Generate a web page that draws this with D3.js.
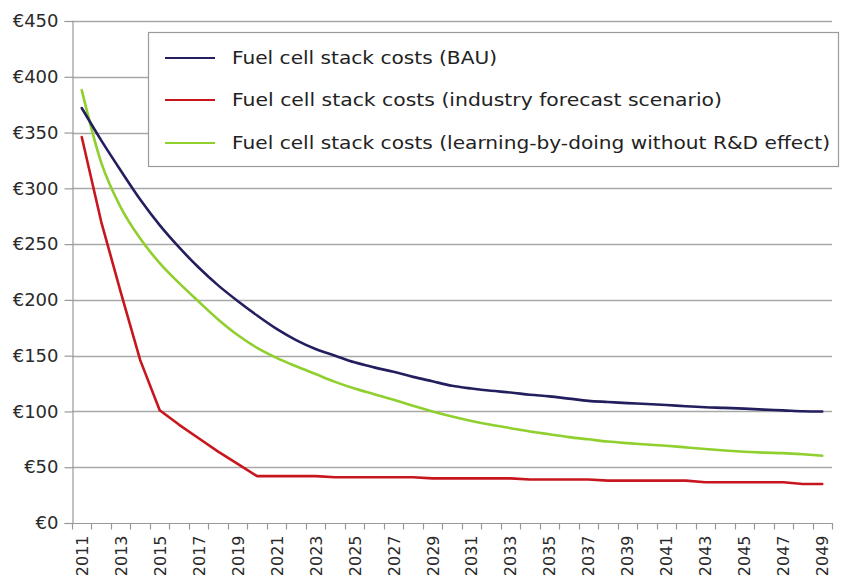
<!DOCTYPE html>
<html>
<head>
<meta charset="utf-8">
<script src="https://cdn.jsdelivr.net/npm/d3@7"></script>
<style>
  html, body { margin: 0; padding: 0; background: #fff; }
  svg { display: block; }
</style>
</head>
<body>
<svg id="chart" width="842" height="576"></svg>
<script>
const years = d3.range(2011, 2050).map(String);
const yTicks = [0, 50, 100, 150, 200, 250, 300, 350, 400, 450];
const xTickLabels = years.filter((d, i) => i % 2 === 0);

const bau = [372, 343, 316, 290, 267, 247, 229, 213, 199, 186, 174, 164, 156, 150, 144,
             139.5, 135.5, 131, 127, 123, 120.5, 118.5, 117, 115, 113.5, 111.5, 109.5, 108.5,
             107.5, 106.7, 105.8, 104.6, 103.7, 103.2, 102.5, 101.6, 101, 100.2, 100];
const industry = [346, 270, 207, 146, 101, 88, 76, 64, 53, 42, 42, 42, 42, 41, 41, 41, 41, 41,
                  40, 40, 40, 40, 40, 39, 39, 39, 39, 38, 38, 38, 38, 38, 36.5, 36.5, 36.5, 36.5,
                  36.5, 35, 35];
const learning = [388, 323, 283, 255, 233, 215, 198.5, 182.5, 168.5, 157, 148, 140.5, 133.5, 126.5,
                  120.5, 115.5, 110.5, 105, 100, 95.5, 91.5, 88, 85, 82, 79.5, 77, 75, 73,
                  71.6, 70.4, 69.2, 67.8, 66.4, 65, 63.9, 63.1, 62.6, 61.6, 60.3];

const seriesNames = [
  "Fuel cell stack costs (BAU)",
  "Fuel cell stack costs (industry forecast scenario)",
  "Fuel cell stack costs (learning-by-doing without R&D effect)"
];
const seriesValues = [bau, industry, learning];
const seriesColors = ["#231f5f", "#c8161e", "#8fcf2e"];

(function () {
const svg = d3.select("#chart");
const mLeft = 72, mRight = 832, mTop = 21, mBottom = 523;

const x = d3.scaleBand().domain(years).range([mLeft, mRight]).padding(0);
const y = d3.scaleLinear().domain([0, 450]).range([mBottom, mTop]);

// gridlines
svg.append("g")
  .selectAll("line")
  .data(yTicks.filter(d => d > 0))
  .join("line")
  .attr("x1", mLeft).attr("x2", mRight)
  .attr("y1", d => Math.round(y(d)) + 0.5).attr("y2", d => Math.round(y(d)) + 0.5)
  .attr("stroke", "#a8a8a8").attr("stroke-width", 1.3);

// y axis
const yAxis = svg.append("g")
  .attr("transform", `translate(${mLeft + 0.5},0)`)
  .call(d3.axisLeft(y).tickValues(yTicks).tickSize(8).tickPadding(6).tickFormat(d => "€" + d));
yAxis.select(".domain").attr("stroke", "#999").attr("stroke-width", 1.2);
yAxis.selectAll(".tick line").attr("stroke", "#999").attr("stroke-width", 1.2);
yAxis.selectAll(".tick text")
  .attr("font-family", "DejaVu Sans, sans-serif")
  .attr("font-size", 18).attr("fill", "#2a2a2a");

// x axis
const xAxisG = svg.append("g").attr("transform", `translate(0,${mBottom + 0.5})`);
xAxisG.append("line").attr("x1", mLeft).attr("x2", mRight + 1)
  .attr("stroke", "#999").attr("stroke-width", 1.2);
const boundaries = years.map(d => x(d)).concat([mRight]);
xAxisG.selectAll("line.tk").data(boundaries).join("line")
  .attr("class", "tk")
  .attr("x1", d => Math.round(d) + 0.5).attr("x2", d => Math.round(d) + 0.5)
  .attr("y1", 0).attr("y2", 6)
  .attr("stroke", "#999").attr("stroke-width", 1.2);
xAxisG.selectAll("text").data(xTickLabels).join("text")
  .attr("transform", d => `translate(${x(d) + x.bandwidth() / 2 + 6},12) rotate(-90)`)
  .attr("text-anchor", "end")
  .attr("font-family", "DejaVu Sans, sans-serif")
  .attr("font-size", 16).attr("fill", "#2a2a2a")
  .text(d => d);

// lines
const cx = (d, i) => x(years[i]) + x.bandwidth() / 2;
const smooth = d3.line().x(cx).y(d => y(d)).curve(d3.curveMonotoneX);
const straight = d3.line().x(cx).y(d => y(d));

const order = [2, 1, 0];
order.forEach(k => {
  svg.append("path")
    .datum(seriesValues[k])
    .attr("fill", "none")
    .attr("stroke", seriesColors[k])
    .attr("stroke-width", 2.6)
    .attr("stroke-linejoin", "round")
    .attr("stroke-linecap", "round")
    .attr("d", k === 1 ? straight : smooth);
});

// legend
const lg = svg.append("g");
lg.append("rect")
  .attr("x", 148.5).attr("y", 32.5).attr("width", 690).attr("height", 134)
  .attr("fill", "#fff").attr("stroke", "#9a9a9a").attr("stroke-width", 1.2);
const rowY = [58, 100, 143];
const textW = [265, 490, 598];
seriesNames.forEach((name, i) => {
  lg.append("line")
    .attr("x1", 165).attr("x2", 215)
    .attr("y1", rowY[i]).attr("y2", rowY[i])
    .attr("stroke", seriesColors[i]).attr("stroke-width", 2);
  lg.append("text")
    .attr("x", 232).attr("y", rowY[i] + 6)
    .attr("font-family", "DejaVu Sans, sans-serif")
    .attr("font-size", 17).attr("fill", "#222")
    .attr("textLength", textW[i]).attr("lengthAdjust", "spacingAndGlyphs")
    .text(name);
});
})();
</script>
</body>
</html>
